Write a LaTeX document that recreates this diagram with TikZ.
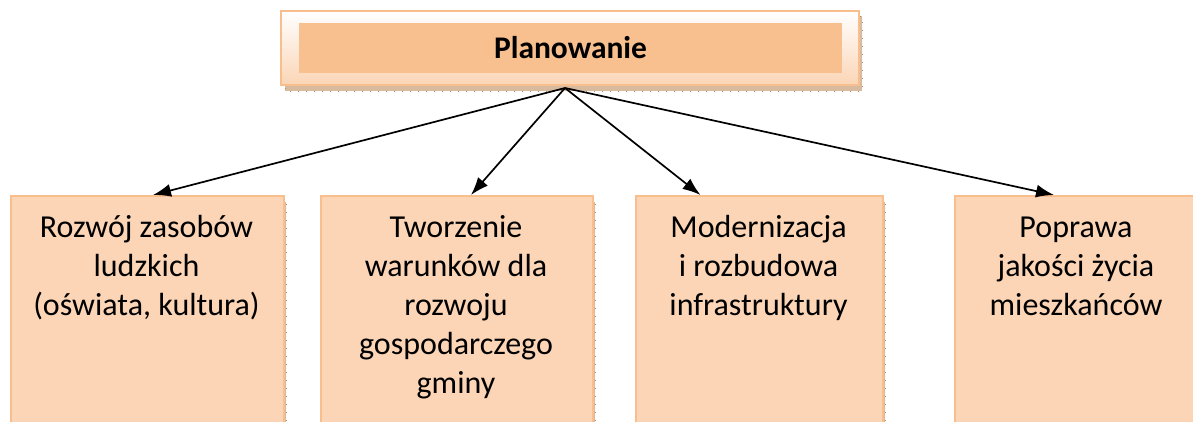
\documentclass[tikz,border=0pt]{standalone}
\usepackage{fontspec}
\setmainfont{Carlito}
\usetikzlibrary{calc,arrows.meta}
\definecolor{peachedge}{RGB}{249,190,142}
\definecolor{peachdark}{RGB}{249,192,143}
\definecolor{peachlight}{RGB}{251,213,181}
\definecolor{shadowbrown}{RGB}{190,140,95}
\newcommand{\firstline}{\rule{0pt}{24pt}}
\tikzset{
  subbox/.style={draw=peachedge, line width=2pt, fill=peachlight},
  boxshadow/.style={fill=shadowbrown!60, draw=shadowbrown, dash pattern=on 1pt off 7pt, line width=0.8pt},
  boxtext/.style={anchor=north, align=center, inner sep=0pt, font=\fontsize{32}{39}\selectfont},
  pointer/.style={line width=1.7pt, -{Latex[length=18pt,width=13pt]}}
}
\begin{document}
\begin{tikzpicture}[x=1pt,y=-1pt]
			%%%%% START %%%%%
			\useasboundingbox (0,0) rectangle (1193,421);
			\clip (0,0) rectangle (1193,421);
			
			% header
			\fill[boxshadow] (285, 16) rectangle (862, 91);
			\draw[draw=peachedge, line width=2.5pt, top color=white, bottom color=peachlight] (281, 11) rectangle (859, 85);
			\node[fill=peachdark, minimum width=543pt, minimum height=50pt, inner sep=0pt] (plan) at (570.5, 48) {};
			\node[font=\fontsize{31.5}{39}\selectfont\bfseries, inner sep=0pt] (plantext) at (plan.center) {Planowanie};
			\coordinate (hub) at (565, 88);
			
			% shadows of the lower boxes
			\fill[boxshadow] (283, 202) rectangle (286, 430);
			\fill[boxshadow] (592, 202) rectangle (595, 430);
			\fill[boxshadow] (882, 202) rectangle (885, 430);
			
			% lower boxes
			\node[subbox, anchor=north west, minimum width=273pt, minimum height=240pt] (zasoby) at (10, 195) {};
			\node[subbox, anchor=north west, minimum width=272pt, minimum height=240pt] (warunki) at (320, 195) {};
			\node[subbox, anchor=north west, minimum width=247pt, minimum height=240pt] (infra) at (635, 195) {};
			\node[subbox, anchor=north west, minimum width=250pt, minimum height=240pt] (jakosc) at (954, 195) {};
			
			\node[boxtext] (zasobytext) at (146.5, 213) {\firstline Rozwój zasobów\\ludzkich\\(oświata, kultura)};
			\node[boxtext] (warunkitext) at (456, 213) {\firstline Tworzenie\\warunków dla\\rozwoju\\gospodarczego\\gminy};
			\node[boxtext] (infratext) at (758.5, 213) {\firstline Modernizacja\\i rozbudowa\\infrastruktury};
			\node[boxtext] (jakosctext) at (1076, 213) {\firstline Poprawa\\jakości życia\\mieszkańców};
			
			% arrows
			\draw[pointer] (hub) -- ([xshift=5.5pt]zasoby.north);
			\draw[pointer] (hub) -- ([xshift=14pt]warunki.north);
			\draw[pointer] (hub) -- ([xshift=-59pt]infra.north);
			\draw[pointer] (hub) -- ([xshift=-26pt]jakosc.north);
			
			%%%%% END %%%%%
\end{tikzpicture}
\end{document}
